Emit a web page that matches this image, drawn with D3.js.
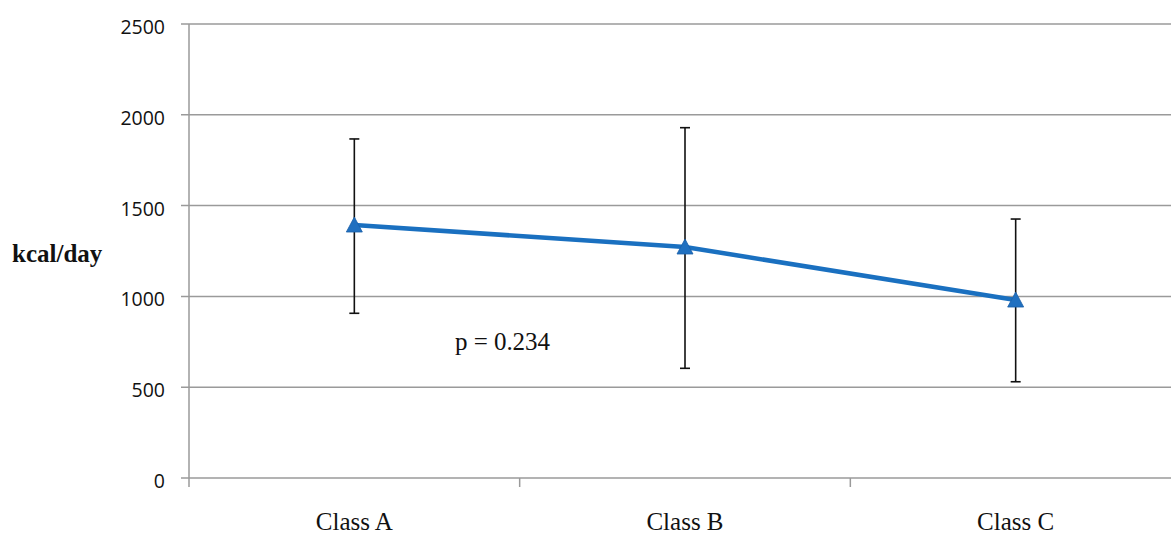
<!DOCTYPE html>
<html>
<head>
<meta charset="utf-8">
<script src="https://cdn.jsdelivr.net/npm/d3@7"></script>
<style>
  body { margin: 0; background: #fff; }
  svg { display: block; }
</style>
</head>
<body>
<div id="chart"></div>
<script>
// data
const categories = ['Class A', 'Class B', 'Class C'];
const means = [1393, 1272, 980];
const upper = [1867, 1929, 1426];
const lower = [907, 604, 530];
const yTicks = [0, 500, 1000, 1500, 2000, 2500];

const W = 1171, H = 534;
const margin = { top: 24, right: -10, bottom: 56, left: 189 };
const width = W - margin.left - margin.right;
const height = H - margin.top - margin.bottom;

const svg = d3.select('#chart').append('svg')
  .attr('width', W)
  .attr('height', H);

const chart = svg.append('g')
  .attr('transform', `translate(${margin.left}, ${margin.top})`);

const x = d3.scaleBand().domain(categories).range([0, width]);
const y = d3.scaleLinear().domain([0, 2500]).range([height, 0]);

// gridlines
chart.append('g')
  .selectAll('line')
  .data(yTicks)
  .join('line')
  .attr('x1', -8)
  .attr('x2', width)
  .attr('y1', d => y(d))
  .attr('y2', d => y(d))
  .attr('stroke', '#9a9a9a')
  .attr('stroke-width', 1.5);

// y axis line
chart.append('line')
  .attr('x1', 0).attr('x2', 0)
  .attr('y1', 0).attr('y2', height + 9)
  .attr('stroke', '#9a9a9a')
  .attr('stroke-width', 1.5);

// category separators on the x axis
chart.append('g')
  .selectAll('line')
  .data(categories.slice(1))
  .join('line')
  .attr('x1', d => x(d))
  .attr('x2', d => x(d))
  .attr('y1', height)
  .attr('y2', height + 9)
  .attr('stroke', '#9a9a9a')
  .attr('stroke-width', 1.5);

// y tick labels
chart.append('g')
  .selectAll('text')
  .data(yTicks)
  .join('text')
  .attr('x', -24)
  .attr('y', d => y(d) + 10)
  .attr('text-anchor', 'end')
  .attr('font-family', 'Open Sans, sans-serif')
  .attr('font-size', 19.5)
  .attr('fill', '#111')
  .text(d => d);

// category labels
chart.append('g')
  .selectAll('text')
  .data(categories)
  .join('text')
  .attr('x', d => x(d) + x.bandwidth() / 2)
  .attr('y', height + 52)
  .attr('text-anchor', 'middle')
  .attr('font-family', 'Liberation Serif, Times New Roman, serif')
  .attr('font-size', 25)
  .attr('fill', '#111')
  .text(d => d);

const cx = i => x(categories[i]) + x.bandwidth() / 2;

// error bars
const eb = chart.append('g').attr('stroke', '#111').attr('stroke-width', 1.6);
categories.forEach((c, i) => {
  eb.append('line')
    .attr('x1', cx(i)).attr('x2', cx(i))
    .attr('y1', y(upper[i])).attr('y2', y(lower[i]));
  [upper[i], lower[i]].forEach(v => {
    eb.append('line')
      .attr('x1', cx(i) - 5).attr('x2', cx(i) + 5)
      .attr('y1', y(v)).attr('y2', y(v));
  });
});

// mean line
const line = d3.line()
  .x((d, i) => cx(i))
  .y(d => y(d));
chart.append('path')
  .datum(means)
  .attr('d', line)
  .attr('fill', 'none')
  .attr('stroke', '#1a70c0')
  .attr('stroke-width', 4.5);

// triangle markers
chart.append('g')
  .selectAll('path')
  .data(means)
  .join('path')
  .attr('transform', (d, i) => `translate(${cx(i)}, ${y(d)})`)
  .attr('d', 'M0,-8 L8,7 L-8,7 Z')
  .attr('fill', '#2070c0')
  .attr('stroke', '#1a5fa8')
  .attr('stroke-width', 0.8);

// annotations
svg.append('text')
  .attr('x', 12)
  .attr('y', 262)
  .attr('font-family', 'Liberation Serif, Times New Roman, serif')
  .attr('font-weight', 'bold')
  .attr('font-size', 25)
  .attr('fill', '#111')
  .text('kcal/day');

svg.append('text')
  .attr('x', 455)
  .attr('y', 350)
  .attr('font-family', 'Liberation Serif, Times New Roman, serif')
  .attr('font-size', 25)
  .attr('textLength', 95)
  .attr('lengthAdjust', 'spacing')
  .attr('fill', '#111')
  .text('p = 0.234');
</script>
</body>
</html>
